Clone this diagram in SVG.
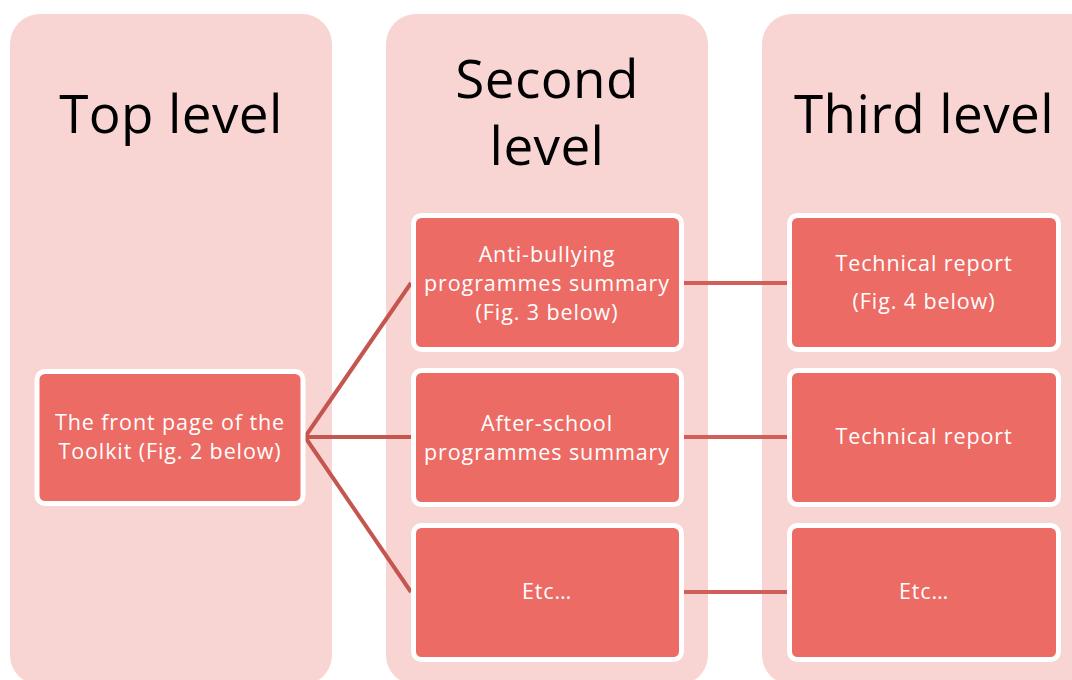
<svg xmlns="http://www.w3.org/2000/svg" width="1072" height="680" viewBox="0 0 1072 680">
<style>
.panel{fill:#F8D5D3}
.node{fill:#EC6B65;stroke:#FFFFFF;stroke-width:5}
.title{font-family:"Open Sans","Liberation Sans",sans-serif;font-size:53px;fill:#000000;text-anchor:middle;letter-spacing:0.4px}
.lbl{font-family:"Open Sans","Liberation Sans",sans-serif;font-size:21.5px;fill:#FFFFFF;text-anchor:middle;letter-spacing:0.9px}
.conn{stroke:#C4554F;stroke-width:4;fill:none}
.conn2{stroke:#D05E59;stroke-width:4;fill:none}
</style>
<rect width="1072" height="680" fill="#FFFFFF"/>
<g id="panel-top">
<rect class="panel" x="10" y="14" width="322" height="671" rx="30"/>
<text class="title" x="171" y="133">Top level</text>
</g>
<g id="panel-second">
<rect class="panel" x="386" y="14" width="322" height="671" rx="30"/>
<text class="title" x="547" y="98">Second</text>
<text class="title" x="547" y="165">level</text>
</g>
<g id="panel-third">
<rect class="panel" x="762" y="14" width="340" height="671" rx="30"/>
<text class="title" x="924" y="133">Third level</text>
</g>
<g id="connectors">
<path class="conn" d="M305 437 L411 283"/>
<path class="conn" d="M305 437 L411 437"/>
<path class="conn" d="M305 437 L411 592"/>
<path class="conn2" d="M684 283 L787 283"/>
<path class="conn2" d="M684 437 L787 437"/>
<path class="conn2" d="M684 592 L787 592"/>
</g>
<g id="node-front">
<rect class="node" x="37" y="371.5" width="266" height="132" rx="8"/>
<text class="lbl" x="170" y="430">The front page of the</text>
<text class="lbl" x="170" y="459">Toolkit (Fig. 2 below)</text>
</g>
<g id="node-antibullying">
<rect class="node" x="413.5" y="215.5" width="268" height="134" rx="8"/>
<text class="lbl" x="547" y="262">Anti-bullying</text>
<text class="lbl" x="547" y="291">programmes summary</text>
<text class="lbl" x="547" y="320">(Fig. 3 below)</text>
</g>
<g id="node-afterschool">
<rect class="node" x="413.5" y="370.5" width="268" height="134" rx="8"/>
<text class="lbl" x="547" y="431">After-school</text>
<text class="lbl" x="547" y="460">programmes summary</text>
</g>
<g id="node-etc2">
<rect class="node" x="413.5" y="525.5" width="268" height="134" rx="8"/>
<text class="lbl" x="547" y="599">Etc…</text>
</g>
<g id="node-tech1">
<rect class="node" x="789.5" y="215.5" width="269" height="134" rx="8"/>
<text class="lbl" x="924" y="271">Technical report</text>
<text class="lbl" x="924" y="309">(Fig. 4 below)</text>
</g>
<g id="node-tech2">
<rect class="node" x="789.5" y="370.5" width="269" height="134" rx="8"/>
<text class="lbl" x="924" y="444">Technical report</text>
</g>
<g id="node-etc3">
<rect class="node" x="789.5" y="525.5" width="269" height="134" rx="8"/>
<text class="lbl" x="924" y="599">Etc…</text>
</g>
</svg>
